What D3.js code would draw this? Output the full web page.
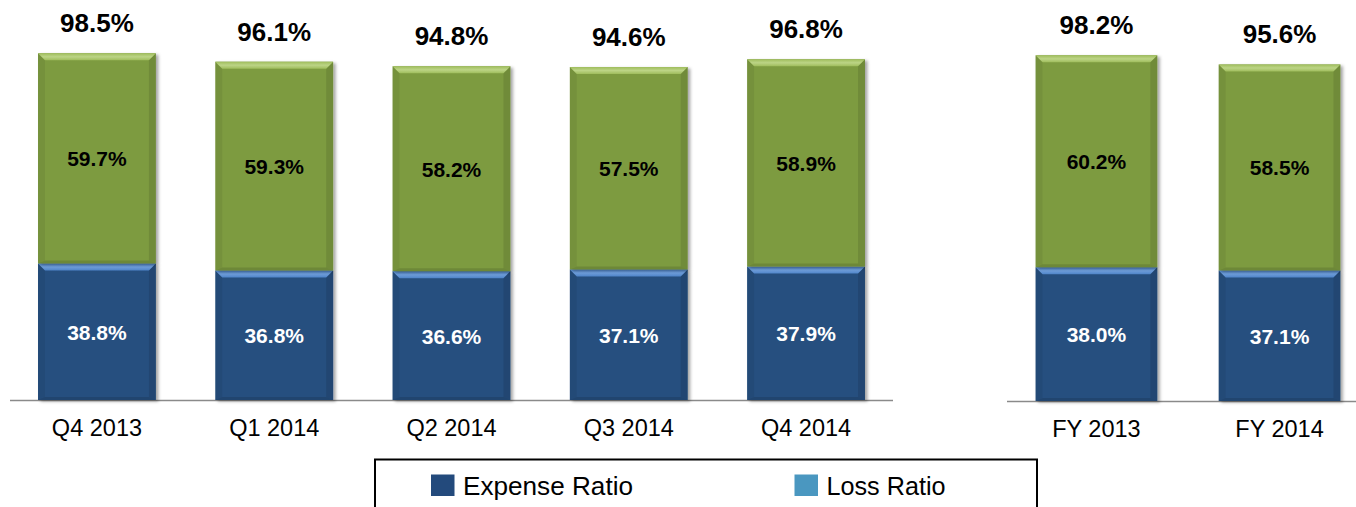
<!DOCTYPE html>
<meta charset="utf-8">
<script src="https://d3js.org/d3.v7.min.js"></script>
<body>
    <style type="text/css">
        html, body { margin: 0; padding: 0; background: white; overflow: hidden; }
        svg { display: block; font-family: "Liberation Sans", Arial, sans-serif; }
    </style>
    <svg width="1356" height="507"></svg>
    <script>

        // chart values
        var quarters = ["Q4 2013", "Q1 2014", "Q2 2014", "Q3 2014", "Q4 2014"];
        var quarterExpense = [38.8, 36.8, 36.6, 37.1, 37.9];
        var quarterLoss = [59.7, 59.3, 58.2, 57.5, 58.9];
        var quarterTotal = [98.5, 96.1, 94.8, 94.6, 96.8];

        var years = ["FY 2013", "FY 2014"];
        var yearExpense = [38.0, 37.1];
        var yearLoss = [60.2, 58.5];
        var yearTotal = [98.2, 95.6];

        var legendNames = ["Expense Ratio", "Loss Ratio"];

        var blue = "#26507f", green = "#7d9b41";
        var legendColors = ["#234a7c", "#4a97c0"];

        var svg = d3.select("svg");
        var defs = svg.append("defs");

        var shadow = defs.append("filter").attr("id", "shadow")
            .attr("x", "-10%").attr("y", "-10%").attr("width", "130%").attr("height", "130%");
        shadow.append("feDropShadow").attr("dx", 2.5).attr("dy", 1.5)
            .attr("stdDeviation", 1.5).attr("flood-color", "#000").attr("flood-opacity", 0.35);

        function bevelGrad(id, c1, c2) {
            var g = defs.append("linearGradient").attr("id", id)
                .attr("x1", 0).attr("y1", 0).attr("x2", 0).attr("y2", 1);
            g.append("stop").attr("offset", "0%").attr("stop-color", c1);
            g.append("stop").attr("offset", "50%").attr("stop-color", c2);
            g.append("stop").attr("offset", "100%").attr("stop-color", c1);
        }
        bevelGrad("bevGreen", "#9fbd5c", "#bcd486");
        bevelGrad("bevBlue", "#4f84c8", "#6f9fdc");

        function panel(cats, expense, loss, total, x0, x1, base, padOuter) {
            var x = d3.scaleBand().domain(cats).range([x0, x1])
                .paddingInner(0.335).paddingOuter(padOuter);
            var y = d3.scaleLinear().domain([0, 100]).range([base, base - 352]);

            var rows = cats.map(function (c, i) {
                return { cat: c, segs: [
                    { y0: 0, y1: expense[i], v: expense[i], fill: blue, bev: "url(#bevBlue)", txt: "white" },
                    { y0: expense[i], y1: expense[i] + loss[i], v: loss[i], fill: green, bev: "url(#bevGreen)", txt: "black" }
                ], total: total[i] };
            });

            // axis line
            svg.append("line").attr("x1", x0).attr("x2", x1).attr("y1", base + 0.5).attr("y2", base + 0.5)
                .attr("stroke", "#8a8a8a").attr("stroke-width", 1.5);

            var g = svg.append("g");
            var bars = g.selectAll("g.bar").data(rows).enter().append("g").attr("class", "bar");

            var seg = bars.selectAll("g.seg").data(function (d) {
                return d.segs.map(function (s) { s.cat = d.cat; return s; });
            }).enter().append("g").attr("class", "seg");

            var b = 7;
            seg.each(function (s) {
                var el = d3.select(this);
                var sx = x(s.cat), w = x.bandwidth();
                var sy = y(s.y1), h = y(s.y0) - y(s.y1);
                el.append("rect").attr("x", sx).attr("y", sy).attr("width", w).attr("height", h)
                    .attr("fill", s.fill).attr("filter", "url(#shadow)");
                // side and bottom edges
                el.append("path").attr("fill", "#000").attr("opacity", 0.06)
                    .attr("d", "M" + sx + "," + sy + "L" + (sx + b) + "," + (sy + b) + "L" + (sx + b) + "," + (sy + h - 3) + "L" + sx + "," + (sy + h) + "Z");
                el.append("path").attr("fill", "#000").attr("opacity", 0.1)
                    .attr("d", "M" + (sx + w) + "," + sy + "L" + (sx + w - b) + "," + (sy + b) + "L" + (sx + w - b) + "," + (sy + h - 3) + "L" + (sx + w) + "," + (sy + h) + "Z");
                el.append("path").attr("fill", "#000").attr("opacity", 0.12)
                    .attr("d", "M" + sx + "," + (sy + h) + "L" + (sx + b) + "," + (sy + h - 3) + "L" + (sx + w - b) + "," + (sy + h - 3) + "L" + (sx + w) + "," + (sy + h) + "Z");
                // top bevel
                el.append("path").attr("fill", s.bev)
                    .attr("d", "M" + sx + "," + sy + "L" + (sx + w) + "," + sy + "L" + (sx + w - b) + "," + (sy + b) + "L" + (sx + b) + "," + (sy + b) + "Z");
                el.append("text").attr("x", sx + w / 2).attr("y", sy + h / 2 + 8)
                    .attr("text-anchor", "middle").attr("font-size", 21).attr("font-weight", "bold")
                    .attr("fill", s.txt).text(s.v.toFixed(1) + "%");
            });

            bars.append("text")
                .attr("x", function (d) { return x(d.cat) + x.bandwidth() / 2; })
                .attr("y", function (d) { return y(d.total) - 21; })
                .attr("text-anchor", "middle").attr("font-size", 26).attr("font-weight", "bold")
                .attr("fill", "black").text(function (d) { return d.total.toFixed(1) + "%"; });

            bars.append("text")
                .attr("x", function (d) { return x(d.cat) + x.bandwidth() / 2; })
                .attr("y", base + 36)
                .attr("text-anchor", "middle").attr("font-size", 23.5)
                .attr("fill", "black").text(function (d) { return d.cat; });
        }

        panel(quarters, quarterExpense, quarterLoss, quarterTotal, 10, 893, 400, 0.158);
        panel(years, yearExpense, yearLoss, yearTotal, 1007, 1369, 401, 0.156);

        // legend
        var lg = svg.append("g");
        lg.append("rect").attr("x", 375).attr("y", 459.5).attr("width", 662).attr("height", 60)
            .attr("fill", "white").attr("stroke", "black").attr("stroke-width", 2);
        var lx = [431, 794.5], tw = [170, 119];
        legendNames.forEach(function (n, i) {
            lg.append("rect").attr("x", lx[i]).attr("y", 474.5).attr("width", 23.5).attr("height", 21.5)
                .attr("fill", legendColors[i]);
            lg.append("text").attr("x", lx[i] + 32).attr("y", 495).attr("font-size", 26)
                .attr("textLength", tw[i]).attr("lengthAdjust", "spacingAndGlyphs")
                .attr("fill", "black").text(n);
        });

    </script>
</body>
